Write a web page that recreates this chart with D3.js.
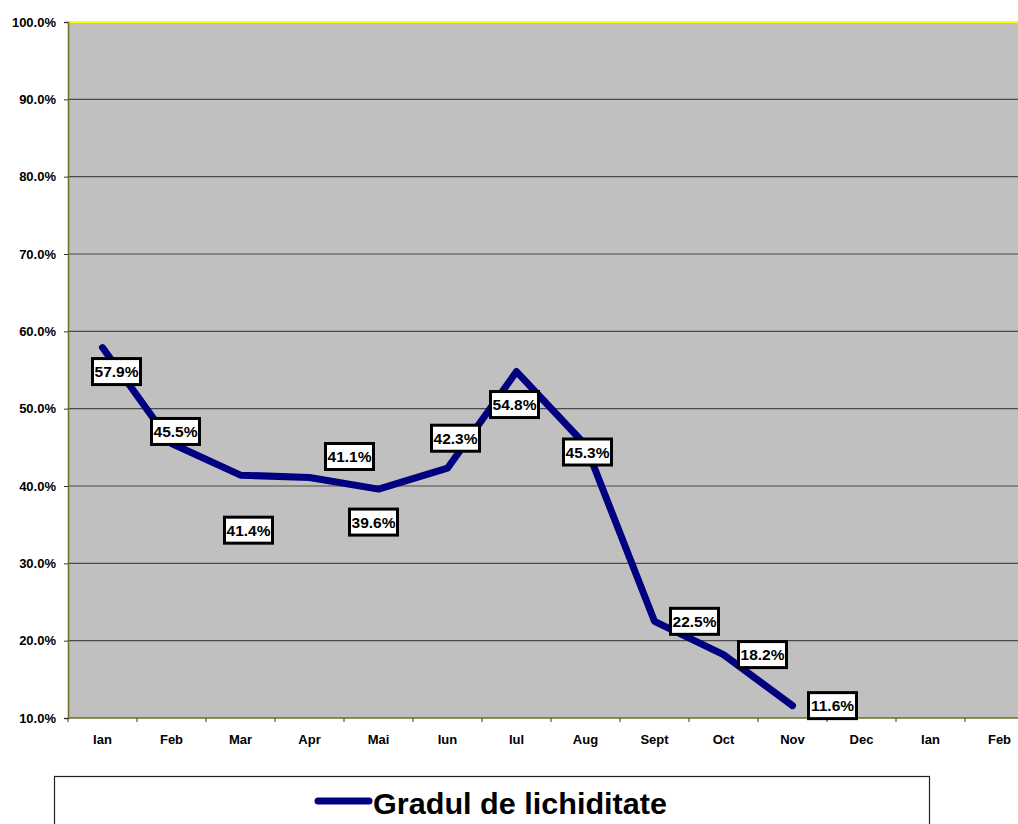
<!DOCTYPE html>
<html>
<head>
<meta charset="utf-8">
<script src="https://cdn.jsdelivr.net/npm/d3@7"></script>
<style>
  body { margin: 0; background: #fff; }
  text { font-family: Arial, "Liberation Sans", sans-serif; font-weight: bold; }
</style>
</head>
<body>
<svg id="chart" width="1018" height="824"></svg>
<script>
// categorii (axa X)
const months = ['Ian', 'Feb', 'Mar', 'Apr', 'Mai', 'Iun', 'Iul', 'Aug', 'Sept', 'Oct', 'Nov', 'Dec', 'Ian', 'Feb'];
// valori serie (%)
const values = [57.9, 45.5, 41.4, 41.1, 39.6, 42.3, 54.8, 45.3, 22.5, 18.2, 11.6];
const seriesName = 'Gradul de lichiditate';
const yTicks = [10, 20, 30, 40, 50, 60, 70, 80, 90, 100];
// deplasarea etichetelor fata de punct (px)
const labelOffsets = [[14, 24], [4, -12], [8, 55], [40, -21], [-5, 33], [8, -30], [-2, 33], [2, 7], [40, 0], [39, 0], [40, 0]];

const svg = d3.select('#chart');
const plotLeft = 68, plotTop = 22, plotBottom = 718, bw = 69;
const plotRight = plotLeft + bw * months.length; // iese din imagine, ca in original

const x = d3.scaleBand().domain(d3.range(months.length)).range([plotLeft, plotRight]);
const y = d3.scaleLinear().domain([10, 100]).range([plotBottom, plotTop]);

// fundal zona grafic
svg.append('rect').attr('x', plotLeft).attr('y', plotTop)
    .attr('width', plotRight - plotLeft).attr('height', plotBottom - plotTop).attr('fill', '#c0c0c0');

// linii de grila
svg.append('g').selectAll('line').data(yTicks.slice(1, -1)).enter().append('line')
    .attr('x1', plotLeft).attr('x2', plotRight)
    .attr('y1', d => y(d)).attr('y2', d => y(d))
    .attr('stroke', '#4a4a4a').attr('stroke-width', 1.2);

// chenar sus galben
svg.append('line').attr('x1', plotLeft).attr('x2', plotRight).attr('y1', plotTop).attr('y2', plotTop)
    .attr('stroke', '#ffff00').attr('stroke-width', 2);

// axa Y
let gy = svg.append('g').attr('transform', `translate(${plotLeft},0)`)
    .call(d3.axisLeft(y).tickValues(yTicks).tickSize(4).tickPadding(8).tickFormat(d => d.toFixed(1) + '%'));
gy.select('.domain').attr('stroke', '#6e6e1e').attr('stroke-width', 1.5);
gy.selectAll('.tick line').attr('stroke', '#333');
gy.selectAll('text').attr('font-size', 13).attr('fill', '#000')
    .attr('font-family', 'Arial, "Liberation Sans", sans-serif').attr('font-weight', 'bold');

// axa X
let gx = svg.append('g').attr('transform', `translate(0,${plotBottom})`)
    .call(d3.axisBottom(x).tickSize(0).tickPadding(17).tickFormat(i => months[i]));
gx.select('.domain').remove();
gx.selectAll('text').attr('font-size', 13).attr('fill', '#000')
    .attr('font-family', 'Arial, "Liberation Sans", sans-serif').attr('font-weight', 'bold');
svg.append('line').attr('x1', plotLeft).attr('x2', plotRight).attr('y1', plotBottom).attr('y2', plotBottom)
    .attr('stroke', '#6e6e1e').attr('stroke-width', 1.5);
svg.append('g').selectAll('line').data(d3.range(months.length + 1)).enter().append('line')
    .attr('x1', i => plotLeft + i * x.step()).attr('x2', i => plotLeft + i * x.step())
    .attr('y1', plotBottom).attr('y2', plotBottom + 4).attr('stroke', '#333');

// linia seriei
const cx = i => x(i) + x.bandwidth() / 2;
const line = d3.line().x((d, i) => cx(i)).y(d => y(d));
svg.append('path').datum(values).attr('d', line)
    .attr('fill', 'none').attr('stroke', '#000080').attr('stroke-width', 7)
    .attr('stroke-linejoin', 'round').attr('stroke-linecap', 'round');

// etichete de date
let lbl = svg.append('g').selectAll('g.lbl').data(values).enter().append('g')
    .attr('class', 'lbl')
    .attr('transform', (d, i) => `translate(${cx(i) + labelOffsets[i][0]},${y(d) + labelOffsets[i][1]})`);
lbl.append('rect').attr('x', -24).attr('y', -13).attr('width', 48).attr('height', 26)
    .attr('fill', '#fff').attr('stroke', '#000').attr('stroke-width', 3);
lbl.append('text').attr('text-anchor', 'middle').attr('dy', '0.36em')
    .attr('font-size', 15.5).text(d => d.toFixed(1) + '%');

// legenda
svg.append('rect').attr('x', 54.5).attr('y', 776.5).attr('width', 875).attr('height', 70)
    .attr('fill', '#fff').attr('stroke', '#222').attr('stroke-width', 1.2);
svg.append('line').attr('x1', 318).attr('x2', 369).attr('y1', 801).attr('y2', 801)
    .attr('stroke', '#000080').attr('stroke-width', 7).attr('stroke-linecap', 'round');
svg.append('text').attr('x', 373).attr('y', 814).attr('font-size', 30)
    .attr('textLength', 294).attr('lengthAdjust', 'spacingAndGlyphs').text(seriesName);
</script>
</body>
</html>
